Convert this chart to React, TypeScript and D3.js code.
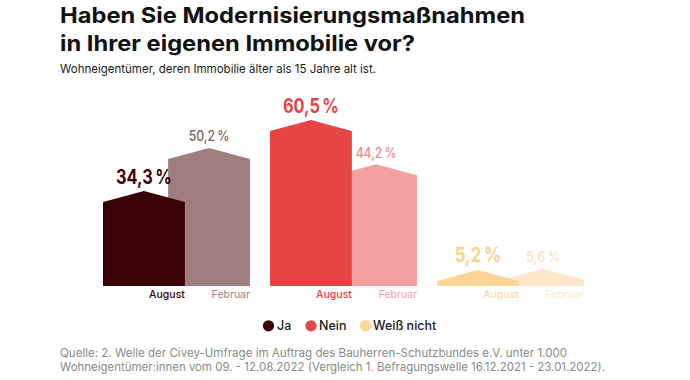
import React from "react";
import * as d3 from "d3";

const categories = ["Ja", "Nein", "Weiß nicht"];
const periods = ["August", "Februar"];
const augustValues = [34.3, 60.5, 5.2];
const februarValues = [50.2, 44.2, 5.6];
const augustLabels = ["34,3\u202F%", "60,5\u202F%", "5,2\u202F%"];
const februarLabels = ["50,2\u202F%", "44,2\u202F%", "5,6\u202F%"];

const augustColors = ["#3b0006", "#e84444", "#fdd597"];
const februarColors = ["#9d7f7e", "#f3a0a0", "#fee8cb"];
const augustTextColors = ["#3b0006", "#e84444", "#fdd08e"];
const februarTextColors = ["#7e5f5f", "#ef8787", "#fde1bb"];
const augustTickColors = ["#3b0006", "#e84444", "#fdd9a8"];
const februarTickColors = ["#9d7f7e", "#f3a0a0", "#fee6c8"];
const legendColors = ["#3b0006", "#e84444", "#fdd597"];

const FONT = "Inter, 'Noto Sans', sans-serif";

export default function App() {
  const W = 690;
  const H = 380;
  const baseline = 286;
  const roof = 11;

  const y = d3.scaleLinear().domain([0, 60.5]).range([284, 120]);
  const x0 = d3
    .scaleBand<string>()
    .domain(categories)
    .range([103, 584])
    .paddingInner(0.12)
    .paddingOuter(0);
  const bw = x0.bandwidth();
  const barW = bw * 0.557;
  const x1 = d3
    .scaleOrdinal<string, number>()
    .domain(periods)
    .range([0, bw - barW]);

  const barPath = (left: number, v: number) => {
    const peak = y(v);
    const shoulder = Math.min(peak + roof, baseline);
    const p = d3.path();
    p.moveTo(left, baseline);
    p.lineTo(left, shoulder);
    p.lineTo(left + barW / 2, peak);
    p.lineTo(left + barW, shoulder);
    p.lineTo(left + barW, baseline);
    p.closePath();
    return p.toString();
  };

  const legendItems = [
    { label: categories[0], cx: 268.5, tx: 277 },
    { label: categories[1], cx: 311, tx: 319 },
    { label: categories[2], cx: 365.5, tx: 373 },
  ];

  return (
    <svg
      width={W}
      height={H}
      style={{ position: "absolute", left: 0, top: 0, background: "#fff" }}
      fontFamily={FONT}
    >
      <rect width={W} height={H} fill="#fff" />
      <text x={60} y={22.5} fontSize={21.5} fontWeight={700} fill="#111" textLength={465} lengthAdjust="spacingAndGlyphs">
        Haben Sie Modernisierungsmaßnahmen
      </text>
      <text x={60} y={50.5} fontSize={21.5} fontWeight={700} fill="#111" textLength={355} lengthAdjust="spacingAndGlyphs">
        in Ihrer eigenen Immobilie vor?
      </text>
      <text x={60} y={73} fontSize={11.6} fill="#1a1a1a" textLength={316} lengthAdjust="spacingAndGlyphs">
        Wohneigentümer, deren Immobilie älter als 15 Jahre alt ist.
      </text>

      {categories.map((c, i) => {
        const gx = x0(c) as number;
        const fLeft = gx + x1("Februar");
        const aLeft = gx + x1("August");
        return (
          <g key={c}>
            <path d={barPath(fLeft, februarValues[i])} fill={februarColors[i]} />
            <path d={barPath(aLeft, augustValues[i])} fill={augustColors[i]} />
            <text
              x={aLeft + barW / 2}
              y={y(augustValues[i]) - 7.5}
              textAnchor="middle"
              fontSize={19.5}
              fontWeight={700}
              fill={augustTextColors[i]}
              textLength={augustLabels[i].length * 9.3}
              lengthAdjust="spacingAndGlyphs"
            >
              {augustLabels[i]}
            </text>
            <text
              x={fLeft + barW / 2}
              y={y(februarValues[i]) - 6.5}
              textAnchor="middle"
              fontSize={14.5}
              fontWeight={500}
              fill={februarTextColors[i]}
              textLength={februarLabels[i].length * 6.8}
              lengthAdjust="spacingAndGlyphs"
            >
              {februarLabels[i]}
            </text>
            <text
              x={aLeft + barW}
              y={297.5}
              textAnchor="end"
              fontSize={10.5}
              fontWeight={500}
              fill={augustTickColors[i]}
            >
              {periods[0]}
            </text>
            <text
              x={fLeft + barW}
              y={297.5}
              textAnchor="end"
              fontSize={10.5}
              fontWeight={400}
              fill={februarTickColors[i]}
            >
              {periods[1]}
            </text>
          </g>
        );
      })}

      {legendItems.map((d, i) => (
        <g key={d.label}>
          <circle cx={d.cx} cy={325.8} r={5.6} fill={legendColors[i]} />
          <text x={d.tx} y={330.2} fontSize={12.5} fontWeight={500} fill="#1a1a1a">
            {d.label}
          </text>
        </g>
      ))}

      <text x={60} y={357} fontSize={11.4} fill="#8a8a8a" textLength={507} lengthAdjust="spacingAndGlyphs">
        Quelle: 2. Welle der Civey-Umfrage im Auftrag des Bauherren-Schutzbundes e.V. unter 1.000
      </text>
      <text x={60} y={371} fontSize={11.4} fill="#8a8a8a" textLength={545} lengthAdjust="spacingAndGlyphs">
        Wohneigentümer:innen vom 09. - 12.08.2022 (Vergleich 1. Befragungswelle 16.12.2021 - 23.01.2022).
      </text>
    </svg>
  );
}
